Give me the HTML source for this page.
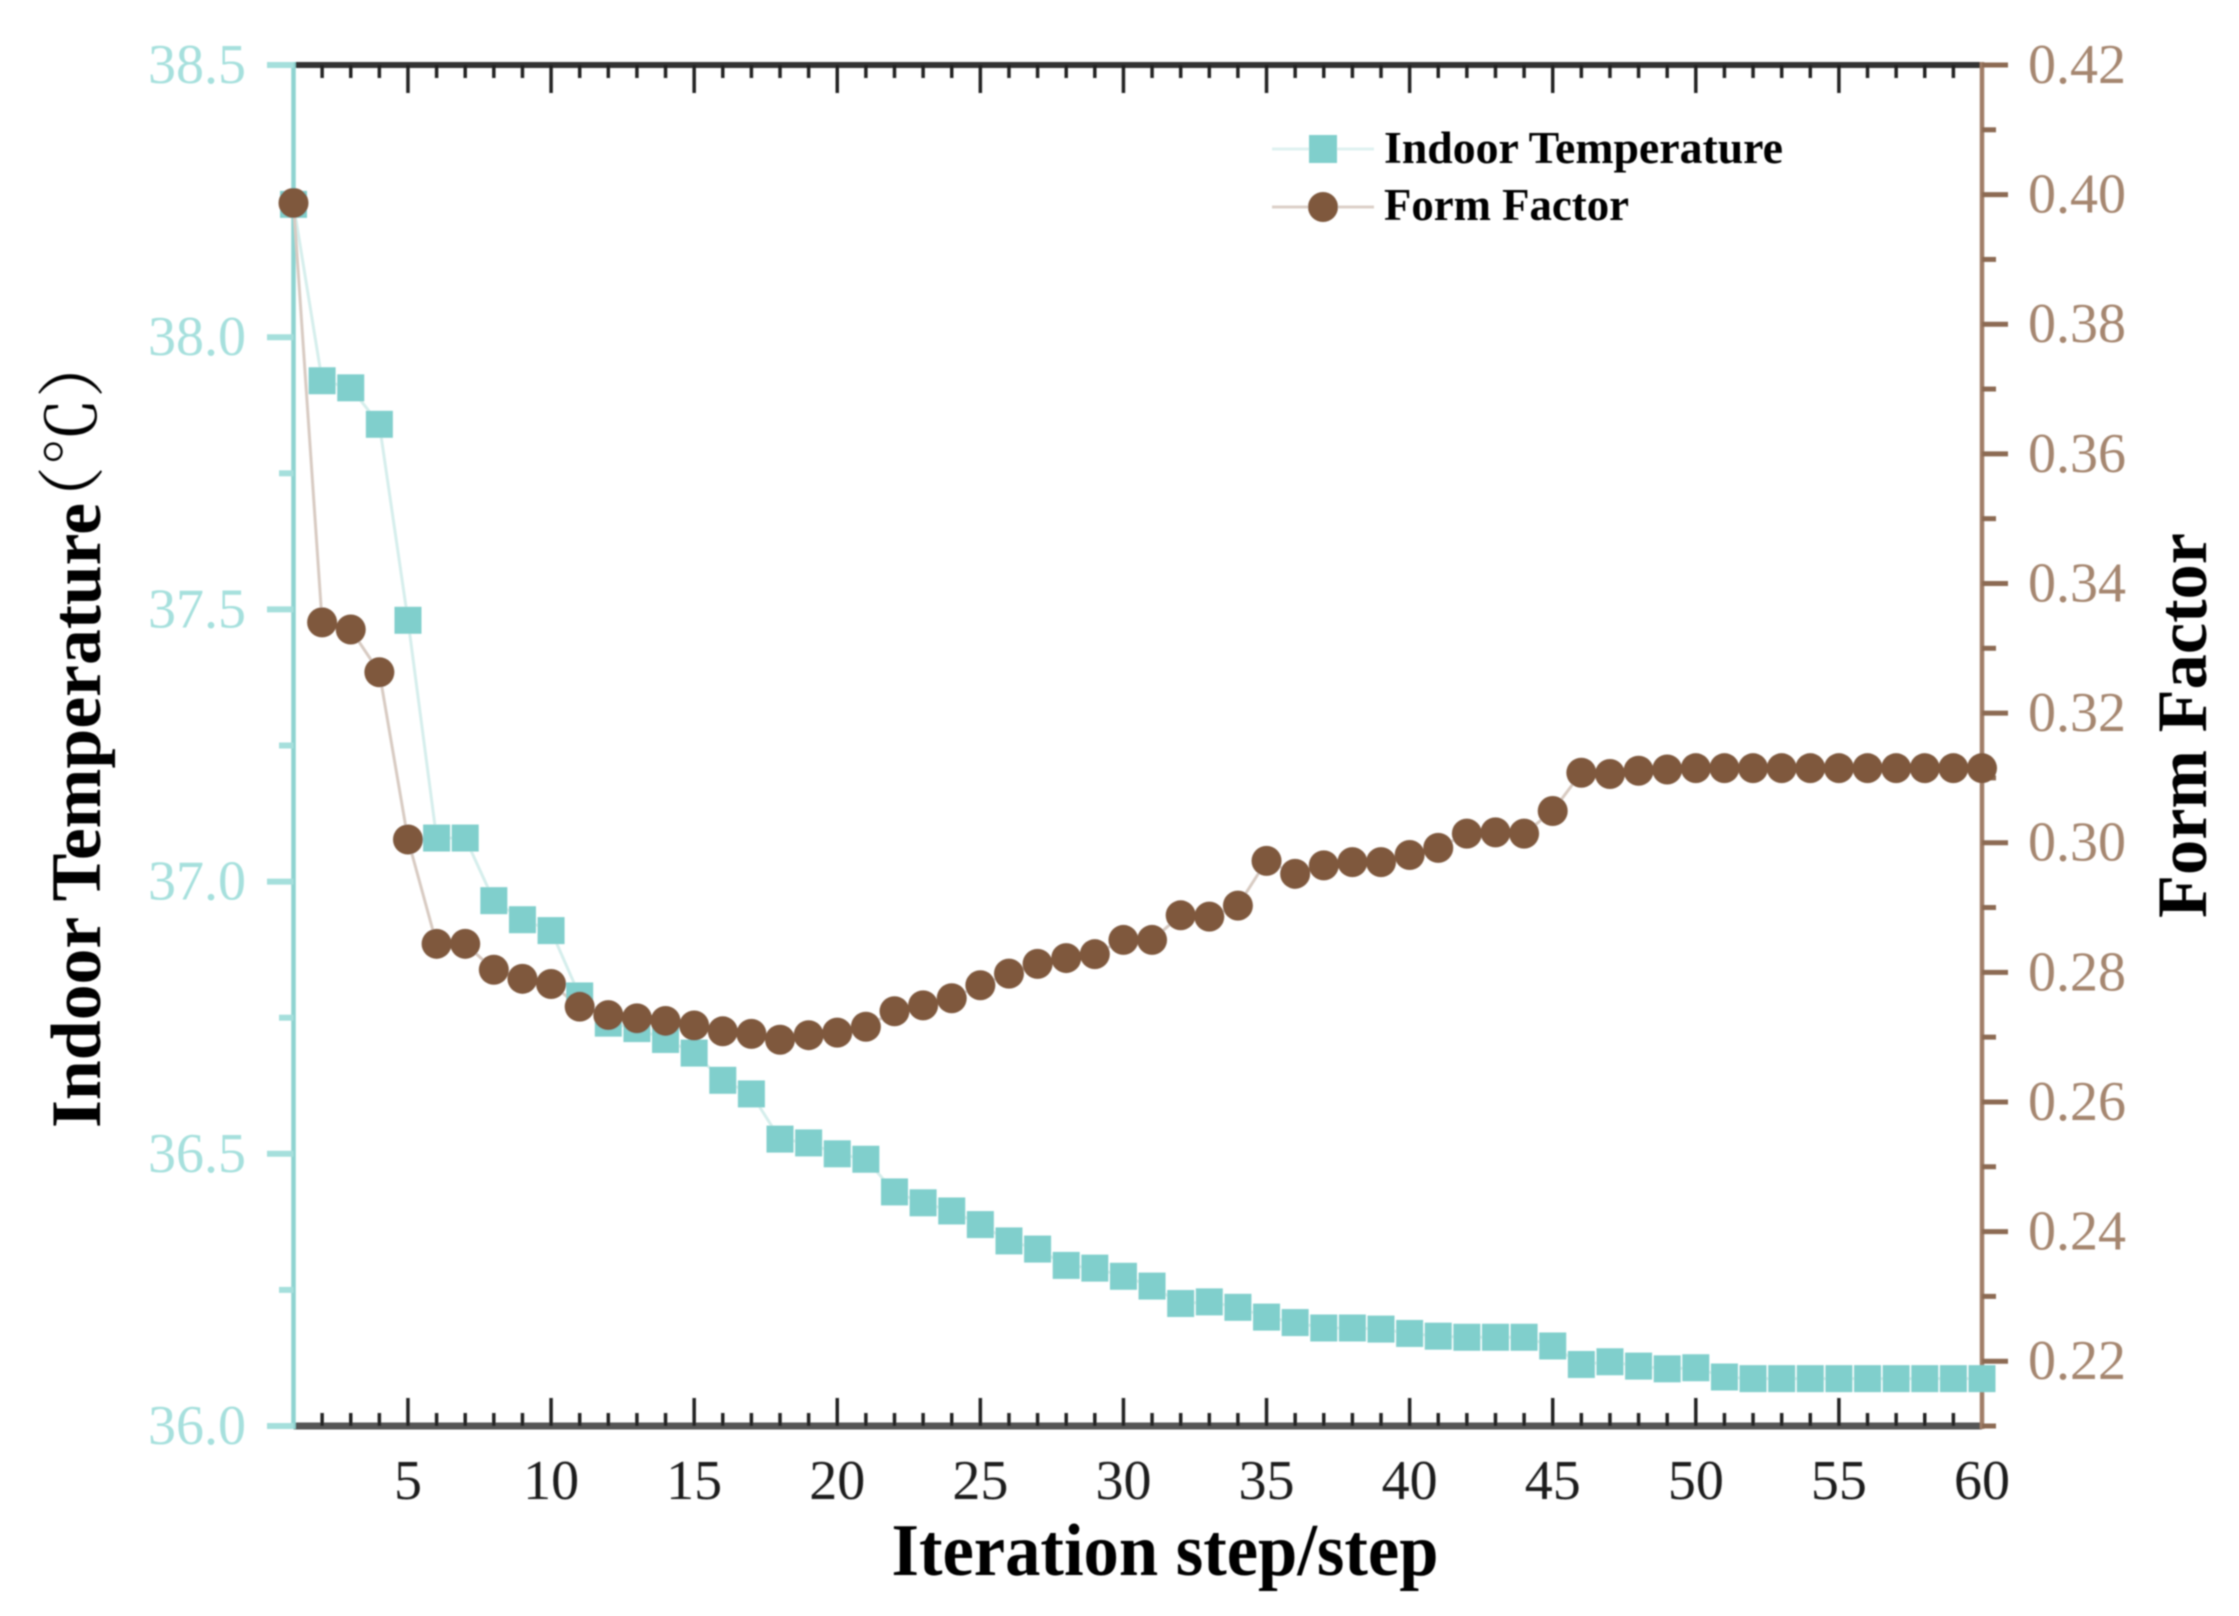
<!DOCTYPE html>
<html lang="en">
<head>
<meta charset="utf-8">
<title>Indoor Temperature and Form Factor vs Iteration Step</title>
<style>
  html, body { margin: 0; padding: 0; background: #fff; }
  body { width: 2239px; height: 1616px; overflow: hidden; }
  svg { display: block; }
  text { font-family: "Liberation Serif", "Noto Serif CJK SC", serif; }
</style>
</head>
<body>
<svg id="chart" xmlns="http://www.w3.org/2000/svg" width="2239" height="1616" viewBox="0 0 2239 1616">
  <defs>
    <filter id="soft" x="-5%" y="-5%" width="110%" height="110%"><feGaussianBlur stdDeviation="0.9"/></filter>
  </defs>
  <rect x="0" y="0" width="2239" height="1616" fill="#ffffff"/>
  <g id="root" filter="url(#soft)">
    <g id="x-axis-layer"></g>
    <g id="left-axis-layer"></g>
    <g id="right-axis-layer"></g>
    <g id="series-layer"></g>

    <text x="1165" y="1575" font-size="74" font-weight="700" fill="#000" text-anchor="middle" textLength="547" lengthAdjust="spacingAndGlyphs">Iteration step/step</text>
    <text transform="translate(100 1128) rotate(-90)" x="0" y="0" font-size="71" font-weight="700" fill="#000" textLength="625" lengthAdjust="spacingAndGlyphs">Indoor Temperature</text>
    <text transform="translate(96 432) rotate(-90)" x="0" y="0" font-size="68" fill="#000" text-anchor="middle">（℃）</text>
    <text transform="translate(2206 918) rotate(-90)" x="0" y="0" font-size="71" font-weight="700" fill="#000" textLength="385" lengthAdjust="spacingAndGlyphs">Form Factor</text>

    <g>
      <g>
        <line x1="1272" y1="149" x2="1374" y2="149" stroke="#dff2f1" stroke-width="3"/>
        <rect x="1309" y="135" width="28" height="28" fill="#80cfcc"/>
        <text x="1384" y="163" font-size="45" font-weight="700" fill="#000" textLength="399" lengthAdjust="spacingAndGlyphs">Indoor Temperature</text>
      </g>
      <g>
        <line x1="1272" y1="207" x2="1374" y2="207" stroke="#dcd0c8" stroke-width="3"/>
        <circle cx="1323" cy="207" r="15" fill="#7f593e"/>
        <text x="1384" y="220" font-size="45" font-weight="700" fill="#000" textLength="245" lengthAdjust="spacingAndGlyphs">Form Factor</text>
      </g>
    </g>
  </g>
</svg>
<script>
const steps = [1,2,3,4,5,6,7,8,9,10,11,12,13,14,15,16,17,18,19,20,21,22,23,24,25,26,27,28,29,30,31,32,33,34,35,36,37,38,39,40,41,42,43,44,45,46,47,48,49,50,51,52,53,54,55,56,57,58,59,60];
const indoorTemperature = [38.244,37.92,37.907,37.84,37.48,37.08,37.08,36.965,36.93,36.91,36.79,36.74,36.73,36.71,36.685,36.635,36.61,36.527,36.52,36.5,36.49,36.43,36.41,36.395,36.37,36.34,36.325,36.295,36.29,36.275,36.257,36.225,36.228,36.218,36.2,36.19,36.18,36.18,36.178,36.17,36.165,36.163,36.163,36.163,36.147,36.113,36.118,36.11,36.105,36.107,36.09,36.087,36.087,36.087,36.087,36.087,36.087,36.087,36.087,36.087];
const formFactor = [0.3987,0.334,0.3329,0.3263,0.3005,0.2844,0.2844,0.2804,0.279,0.2782,0.2747,0.2734,0.2729,0.2725,0.2718,0.2709,0.2705,0.2696,0.2703,0.2707,0.2716,0.274,0.2749,0.276,0.278,0.2798,0.2813,0.2822,0.2828,0.285,0.285,0.2888,0.2886,0.2903,0.2972,0.2952,0.2965,0.297,0.297,0.2981,0.2992,0.3014,0.3016,0.3014,0.3049,0.3108,0.3106,0.3111,0.3113,0.3115,0.3115,0.3115,0.3115,0.3115,0.3115,0.3115,0.3115,0.3115,0.3115,0.3115];
const xTickLabels = [5,10,15,20,25,30,35,40,45,50,55,60];
const xMinorTicks = [1,2,3,4,6,7,8,9,11,12,13,14,16,17,18,19,21,22,23,24,26,27,28,29,31,32,33,34,36,37,38,39,41,42,43,44,46,47,48,49,51,52,53,54,56,57,58,59];
const leftTickLabels = ["36.0","36.5","37.0","37.5","38.0","38.5"];
const leftMinorTicks = [36.25,36.75,37.25,37.75,38.25];
const rightTickLabels = ["0.22","0.24","0.26","0.28","0.30","0.32","0.34","0.36","0.38","0.40","0.42"];
const rightMinorTicks = [0.21,0.23,0.25,0.27,0.29,0.31,0.33,0.35,0.37,0.39,0.41];
const xDomain = [1, 60];
const leftDomain = [36, 38.5];
const rightDomain = [0.21, 0.42];

const plot = { left: 293.5, right: 1982, top: 65, bottom: 1426 };
const NS = 'http://www.w3.org/2000/svg';

function xScale(v) {
  return plot.left + (v - xDomain[0]) / (xDomain[1] - xDomain[0]) * (plot.right - plot.left);
}
function yLeft(v) {
  return plot.bottom - (v - leftDomain[0]) / (leftDomain[1] - leftDomain[0]) * (plot.bottom - plot.top);
}
function yRight(v) {
  return plot.bottom - (v - rightDomain[0]) / (rightDomain[1] - rightDomain[0]) * (plot.bottom - plot.top);
}
function make(tag, parent, attrs) {
  const el = document.createElementNS(NS, tag);
  for (const k in attrs) el.setAttribute(k, attrs[k]);
  parent.appendChild(el);
  return el;
}

const xLayer = document.getElementById('x-axis-layer');
const leftLayer = document.getElementById('left-axis-layer');
const rightLayer = document.getElementById('right-axis-layer');
const seriesLayer = document.getElementById('series-layer');

/* x axis: bottom and top rails with mirrored ticks */
const bottomRail = make('line', xLayer, { x1: plot.left, y1: 1426, x2: plot.right, y2: 1426, stroke: '#555555', 'stroke-width': 7 });


const topRail = make('line', xLayer, { x1: plot.left, y1: 65, x2: plot.right, y2: 65, stroke: '#333333', 'stroke-width': 6 });



xMinorTicks.forEach(function (v) {
  const x = xScale(v);
  if (v !== xDomain[0]) {
    const b = make('line', xLayer, { x1: x, y1: 1426, x2: x, y2: 1413, stroke: '#222', 'stroke-width': 3.5 });
    
    
    const t = make('line', xLayer, { x1: x, y1: 65, x2: x, y2: 78, stroke: '#222', 'stroke-width': 3.5 });
    
    
  }
});
xTickLabels.forEach(function (v) {
  const x = xScale(v);
  const b = make('line', xLayer, { x1: x, y1: 1426, x2: x, y2: 1398, stroke: '#222', 'stroke-width': 3.5 });
  
  
  const t = make('line', xLayer, { x1: x, y1: 65, x2: x, y2: 93, stroke: '#222', 'stroke-width': 3.5 });
  
  
  const label = make('text', xLayer, { x: x, y: 1499, 'font-size': 56, fill: '#1a1a1a', 'text-anchor': 'middle' });
  
  
  label.textContent = String(v);
});

/* left axis */
const leftLine = make('line', leftLayer, { x1: plot.left, y1: plot.top - 3, x2: plot.left, y2: plot.bottom + 3, stroke: '#8ed3d0', 'stroke-width': 4.5 });


leftTickLabels.forEach(function (s) {
  const y = yLeft(parseFloat(s));
  const tick = make('line', leftLayer, { x1: 267, y1: y, x2: plot.left, y2: y, stroke: '#a5dfdc', 'stroke-width': 6 });
  
  
  const label = make('text', leftLayer, { x: 246, y: y + 18, 'font-size': 56, fill: '#a6e0dd', 'text-anchor': 'end' });
  
  
  label.textContent = s;
});
leftMinorTicks.forEach(function (v) {
  const y = yLeft(v);
  const tick = make('line', leftLayer, { x1: 279, y1: y, x2: plot.left, y2: y, stroke: '#a5dfdc', 'stroke-width': 6 });
  
  
});

/* right axis */
const rightLine = make('line', rightLayer, { x1: plot.right, y1: plot.top - 3, x2: plot.right, y2: plot.bottom + 3, stroke: '#a07e68', 'stroke-width': 4.5 });


rightTickLabels.forEach(function (s) {
  const y = yRight(parseFloat(s));
  const tick = make('line', rightLayer, { x1: plot.right, y1: y, x2: 2008, y2: y, stroke: '#8c6a52', 'stroke-width': 5 });
  
  
  const label = make('text', rightLayer, { x: 2028, y: y + 18, 'font-size': 56, fill: '#a5866f' });
  
  
  label.textContent = s;
});
rightMinorTicks.forEach(function (v) {
  const y = yRight(v);
  const tick = make('line', rightLayer, { x1: plot.right, y1: y, x2: 1996, y2: y, stroke: '#8c6a52', 'stroke-width': 5 });
  
  
});

/* series */
const tempPts = steps.map(function (s, i) { return xScale(s) + ',' + yLeft(indoorTemperature[i]); }).join(' ');
const tempLine = make('polyline', seriesLayer, { points: tempPts, fill: 'none', stroke: '#d5eeec', 'stroke-width': 3 });


const formPts = steps.map(function (s, i) { return xScale(s) + ',' + yRight(formFactor[i]); }).join(' ');
const formLine = make('polyline', seriesLayer, { points: formPts, fill: 'none', stroke: '#d8cbc2', 'stroke-width': 3 });



steps.forEach(function (s, i) {
  const size = 27;
  const m = make('rect', seriesLayer, { x: xScale(s) - size / 2, y: yLeft(indoorTemperature[i]) - size / 2, width: size, height: size, fill: '#80cfcc' });
  
  
});
steps.forEach(function (s, i) {
  const m = make('circle', seriesLayer, { cx: xScale(s), cy: yRight(formFactor[i]), r: 15, fill: '#7f593e' });
  
  
});
</script>
</body>
</html>
